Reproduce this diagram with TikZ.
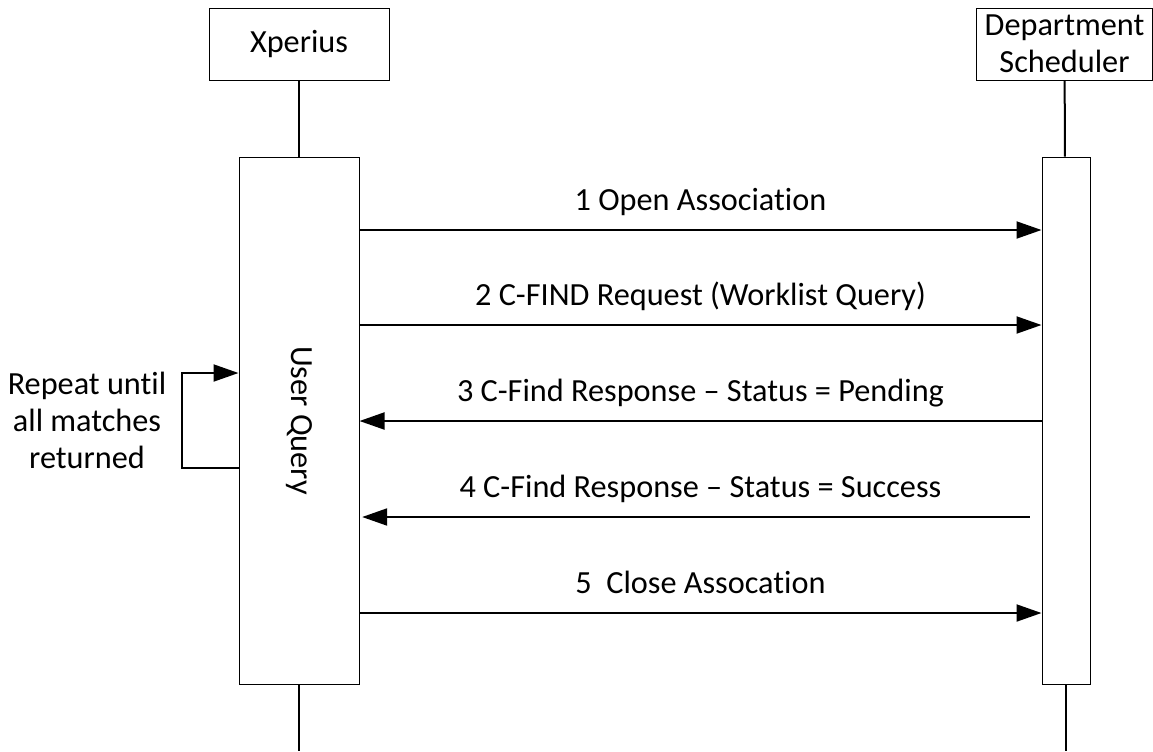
\documentclass[tikz,border=0pt]{standalone}
\usepackage{fontspec}
\setmainfont{Carlito}[Ligatures=NoCommon]
\usetikzlibrary{%
    arrows.meta,
    positioning,
    calc
}

\begin{document}
\begin{tikzpicture}[
      x=0.75pt, y=-0.75pt,
      font=\fontsize{24.2}{27.75}\selectfont,
      elem/.style={rectangle, draw, line width=0.75pt, inner sep=0pt},
      actor/.style={minimum width=135pt, minimum height=54pt, align=center},
      activation/.style={minimum height=395.25pt},
      lifeline/.style={line width=1.5pt},
      msg/.style={line width=1.5pt, -{Triangle[length=18.75pt, width=12.75pt]}},
      msglabel/.style={midway, anchor=base, yshift=15pt, inner sep=0pt}
    ]
      \useasboundingbox (0,0) rectangle (1153,751);

      % actors
      \node[elem, actor] (xperius) at (299,44) {Xperius};
      \node[elem, actor, minimum width=132.4pt] (scheduler) at (1064.5,44)
        {Department\\Scheduler};

      % activation bars
      \node[elem, activation, minimum width=90pt] (query) at (299,420.5) {};
      \node[rotate=-90] at (query.center) {User Query};
      \node[elem, activation, minimum width=36pt] (sched_act) at (1066,420.5) {};

      % lifelines
      \coordinate (xperius_end) at (299,751);
      \coordinate (scheduler_end) at (1066,751);
      \draw[lifeline] (xperius) -- (query);
      \draw[lifeline] (query) -- (xperius_end);
      \draw[lifeline] (scheduler) -- (sched_act);
      \draw[lifeline] (sched_act) -- (scheduler_end);

      % message levels
      \coordinate (level1) at (0,230);
      \coordinate (level2) at (0,325);
      \coordinate (level3) at (0,421);
      \coordinate (level4) at (0,517);
      \coordinate (level5) at (0,613);

      \draw[msg] (query.east |- level1) --
        node[msglabel] {1 Open Association} (sched_act.west |- level1);
      \draw[msg] (query.east |- level2) --
        node[msglabel] {2 C-FIND Request (Worklist Query)} (sched_act.west |- level2);
      \draw[msg] (sched_act.west |- level3) --
        node[msglabel] {3 C-Find Response -- Status = Pending} (query.east |- level3);
      \draw[msg, shorten <=9pt, shorten >=2pt] (sched_act.west |- level4) --
        node[msglabel] {4 C-Find Response -- Status = Success} (query.east |- level4);
      \draw[msg] (query.east |- level5) --
        node[msglabel] {5\ \ Close Assocation} (sched_act.west |- level5);

      % repeat loop
      \coordinate (loop_top) at (0,373);
      \coordinate (loop_bottom) at (0,468);
      \node[align=center] (repeat) at (87,420) {Repeat until\\all matches\\returned};
      \draw[msg] (query.west |- loop_bottom) -- ++(-57,0) |- (query.west |- loop_top);
    \end{tikzpicture}
\end{document}
